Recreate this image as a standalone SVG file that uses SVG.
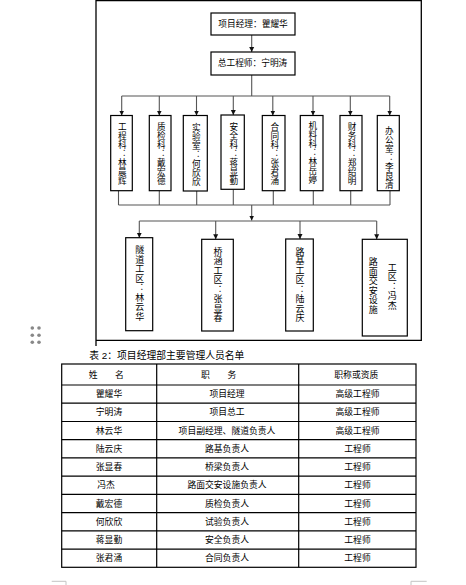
<svg xmlns="http://www.w3.org/2000/svg" width="466" height="585" viewBox="0 0 466 585">
<style>
text{font-family:"Liberation Sans","Noto Sans CJK SC",sans-serif;fill:#000}
.box{fill:#fff;stroke:#000;stroke-width:1.2}
.ln{stroke:#555;stroke-width:1.1;fill:none}
.ar{stroke:#555;stroke-width:1.1;fill:none;marker-end:url(#ah)}
.h{font-size:8.7px;text-anchor:middle;dominant-baseline:central}
.vt{writing-mode:vertical-rl;font-size:8.6px;letter-spacing:0.4px}
.vz{writing-mode:vertical-rl;font-size:9px;letter-spacing:0.5px}
.tb{font-size:8.8px;text-anchor:middle;dominant-baseline:central}
.tl{stroke:#000;stroke-width:1.2;fill:none}
.cm{stroke:#c4c4c4;stroke-width:1;fill:none}
</style>
<defs>
<marker id="ah" markerUnits="userSpaceOnUse" markerWidth="6" markerHeight="6" refX="5" refY="3" orient="auto">
<path d="M0,0.5 L5,3 L0,5.5 Z" fill="#111"/>
</marker>
</defs>
<rect x="0" y="0" width="466" height="585" fill="#fff"/>
<!-- frame -->
<path d="M96,346 V0.6 H421.3 V340.4 H96" fill="none" stroke="#000" stroke-width="1.3"/>
<!-- drag handle -->
<g fill="#888">
<circle cx="32.3" cy="328" r="1.8"/><circle cx="39" cy="328" r="1.8"/>
<circle cx="32.3" cy="335.3" r="1.8"/><circle cx="39" cy="335.3" r="1.8"/>
<circle cx="32.3" cy="342.3" r="1.8"/><circle cx="39" cy="342.3" r="1.8"/>
</g>
<g id="connectors">
<line class="ar" x1="251.7" y1="35" x2="251.7" y2="52"/>
<line class="ln" x1="251.7" y1="75" x2="251.7" y2="96"/>
<line class="ln" x1="121.7" y1="96" x2="389.7" y2="96"/>
<line class="ar" x1="121.7" y1="96" x2="121.7" y2="115.5"/>
<line class="ar" x1="159.3" y1="96" x2="159.3" y2="115.5"/>
<line class="ar" x1="196.5" y1="96" x2="196.5" y2="115.5"/>
<line class="ar" x1="233.3" y1="96" x2="233.3" y2="115"/>
<line class="ar" x1="272.8" y1="96" x2="272.8" y2="115.5"/>
<line class="ar" x1="313" y1="96" x2="313" y2="115.5"/>
<line class="ar" x1="350.3" y1="96" x2="350.3" y2="115.5"/>
<line class="ar" x1="389.7" y1="96" x2="389.7" y2="115.5"/>
<line class="ln" x1="118.5" y1="190.7" x2="118.5" y2="205"/>
<line class="ln" x1="159.3" y1="190.7" x2="159.3" y2="205"/>
<line class="ln" x1="196.7" y1="190.7" x2="196.7" y2="205"/>
<line class="ln" x1="233.3" y1="189.3" x2="233.3" y2="205"/>
<line class="ln" x1="273.3" y1="190.7" x2="273.3" y2="205"/>
<line class="ln" x1="313.3" y1="190.7" x2="313.3" y2="205"/>
<line class="ln" x1="350.7" y1="190.7" x2="350.7" y2="205"/>
<line class="ln" x1="390" y1="190.7" x2="390" y2="205"/>
<line class="ln" x1="118.5" y1="205" x2="390" y2="205"/>
<line class="ar" x1="251.7" y1="205" x2="251.7" y2="220.5"/>
<line class="ln" x1="139.3" y1="221" x2="376.7" y2="221"/>
<line class="ar" x1="139.3" y1="221" x2="139.3" y2="237.7"/>
<line class="ar" x1="215.7" y1="221" x2="215.7" y2="239.3"/>
<line class="ar" x1="300" y1="221" x2="300" y2="239"/>
<line class="ar" x1="376.7" y1="221" x2="376.7" y2="239.3"/>
</g>
<g id="pm"><rect class="box" x="211" y="13" width="84" height="22"/><text class="h" x="253" y="23.5">项目经理：瞿耀华</text></g>
<g id="ce"><rect class="box" x="211" y="52" width="84" height="23"/><text class="h" x="252.5" y="63">总工程师：宁明涛</text></g>
<g id="d1"><rect class="box" x="110.7" y="115.5" width="21.6" height="75.2"/><text class="vt" x="121.2" y="122">工程科：林晨辉</text></g>
<g id="d2"><rect class="box" x="149.3" y="115.5" width="21.7" height="75.2"/><text class="vt" x="160.2" y="122.5">质检科：戴宏德</text></g>
<g id="d3"><rect class="box" x="183.3" y="115.5" width="24" height="75.5"/><text class="vt" x="195.3" y="123.5">实验室：何欣欣</text></g>
<g id="d4"><rect class="box" x="221" y="115" width="23.3" height="74.3"/><text class="vt" x="232.7" y="122.5">安全科：蒋显勤</text></g>
<g id="d5"><rect class="box" x="262.3" y="115.5" width="22.7" height="75.2"/><text class="vt" x="273.7" y="122">合同科：张君涌</text></g>
<g id="d6"><rect class="box" x="300.3" y="115.5" width="22.7" height="75.2"/><text class="vt" x="311.7" y="121">机料科：林岳婷</text></g>
<g id="d7"><rect class="box" x="340" y="115.5" width="22" height="75.2"/><text class="vt" x="351" y="122">财务科：郑绍明</text></g>
<g id="d8"><rect class="box" x="377.3" y="115.5" width="22" height="75.2"/><text class="vt" x="388.3" y="126">办公室：李良清</text></g>
<g id="z1"><rect class="box" x="125.7" y="237.7" width="27" height="93"/><text class="vz" x="139.2" y="245.5">隧道工区：林云华</text></g>
<g id="z2"><rect class="box" x="201.7" y="239.3" width="31.6" height="91.7"/><text class="vz" x="217.5" y="247">桥涵工区：张显春</text></g>
<g id="z3"><rect class="box" x="285.7" y="239" width="27.6" height="92"/><text class="vz" x="299.5" y="247">路基工区：陆云庆</text></g>
<g id="z4"><rect class="box" x="362.3" y="239.3" width="45" height="96.7"/><text class="vz" x="391.7" y="263">工区：冯杰</text><text class="vz" x="372.7" y="257.5">路面交安设施</text></g>
<g id="table">
<text x="89.3" y="355" font-size="9.8" dominant-baseline="central">表 2：项目经理部主要管理人员名单</text>
<rect class="tl" x="61.7" y="364" width="354.3" height="203.3"/>
<path class="tl" d="M156.7,364 V567.3 M298.7,364 V567.3 M61.7,385 H416 M61.7,403.2 H416 M61.7,421.5 H416 M61.7,439.7 H416 M61.7,457.9 H416 M61.7,476.2 H416 M61.7,494.4 H416 M61.7,512.6 H416 M61.7,530.8 H416 M61.7,549.1 H416"/>
<text class="tb" x="106.3" y="374.5">姓　　名</text>
<text class="tb" x="218.7" y="374.5">职　　务</text>
<text class="tb" x="356.3" y="374.5">职称或资质</text>
<text class="tb" x="109" y="394.1">瞿耀华</text><text class="tb" x="227" y="394.1">项目经理</text><text class="tb" x="357.5" y="394.1">高级工程师</text>
<text class="tb" x="109" y="412.3">宁明涛</text><text class="tb" x="227" y="412.3">项目总工</text><text class="tb" x="357.5" y="412.3">高级工程师</text>
<text class="tb" x="109" y="430.6">林云华</text><text class="tb" x="227" y="430.6">项目副经理、隧道负责人</text><text class="tb" x="357.5" y="430.6">高级工程师</text>
<text class="tb" x="109" y="448.8">陆云庆</text><text class="tb" x="227" y="448.8">路基负责人</text><text class="tb" x="357.5" y="448.8">工程师</text>
<text class="tb" x="109" y="467">张显春</text><text class="tb" x="227" y="467">桥梁负责人</text><text class="tb" x="357.5" y="467">工程师</text>
<text class="tb" x="106" y="485.3">冯杰</text><text class="tb" x="227" y="485.3">路面交安设施负责人</text><text class="tb" x="357.5" y="485.3">工程师</text>
<text class="tb" x="109" y="503.5">戴宏德</text><text class="tb" x="227" y="503.5">质检负责人</text><text class="tb" x="357.5" y="503.5">工程师</text>
<text class="tb" x="109" y="521.7">何欣欣</text><text class="tb" x="227" y="521.7">试验负责人</text><text class="tb" x="357.5" y="521.7">工程师</text>
<text class="tb" x="109" y="539.9">蒋显勤</text><text class="tb" x="227" y="539.9">安全负责人</text><text class="tb" x="357.5" y="539.9">工程师</text>
<text class="tb" x="109" y="558.2">张君涌</text><text class="tb" x="227" y="558.2">合同负责人</text><text class="tb" x="357.5" y="558.2">工程师</text>
</g>
<path class="cm" d="M51.7,581.3 H66 V585 M426.7,581.3 H411 V585"/>
</svg>
